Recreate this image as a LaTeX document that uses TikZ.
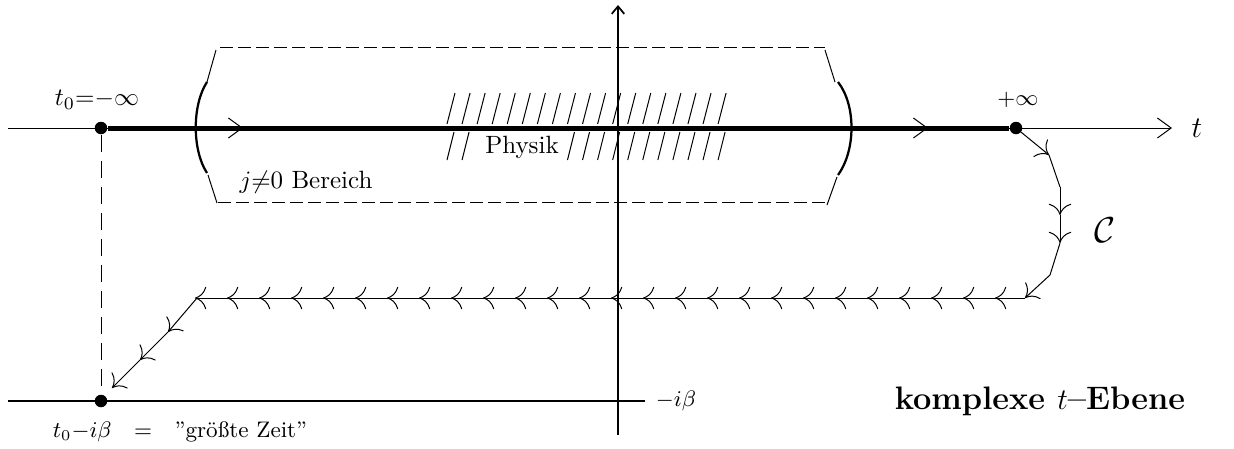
\documentclass[tikz,border=0pt]{standalone}
\usepackage{amsmath,amssymb}
\usetikzlibrary{positioning,arrows.meta}

\begin{document}
\begin{tikzpicture}[x=0.4pt, y=-0.4pt,
  dot/.style={circle, fill, inner sep=0pt, minimum size=5pt},
  barb/.style={-{To[length=4.5pt,width=9pt]}},
  bigbarb/.style={-{Straight Barb[length=5.5pt,width=8pt]}},
  dashbox/.style={dash pattern=on 5pt off 2.2pt},
  bracket/.style={line width=0.9pt}]
\useasboundingbox (0,0) rectangle (1234,448);

\node[dot] (t0) at (101,128) {};
\node[dot] (inf) at (1016,128) {};
\node[dot] (tb) at (101,401) {};

\node (t0lab) at (97,100) {$t_0{=}{-}\infty$};
\node (inflab) at (1018,100) {\small ${+}\infty$};
\node (tlab) at (1197,128) {\large $t$};
\node (phys) at (522,147) {Physik};
\node (bereich) at (306,182) {$j{\neq}0$ Bereich};
\node (cal) at (1105,230) {\Large $\mathcal{C}$};
\node (mib) at (676,401) {\small $-i\beta$};
\node (zeit) at (180,432) {\small $t_0{-}i\beta$\quad$=$\quad''gr\"o\ss te Zeit''};
\node (ebene) at (1040,401) {\fontsize{13}{15}\selectfont\bfseries komplexe $t$--Ebene};

% axes
\coordinate (xl) at (8,128);
\coordinate (xr) at (1172,128);
\draw[bigbarb] (xl) -- (xr);
\draw[line width=0.7pt, -{Straight Barb[length=3pt,width=5pt]}] (618,435) -- (618,5);
\draw[line width=0.8pt] (8,401) -- (645,401);
\draw[dash pattern=on 6.8pt off 3.6pt] (t0) -- (tb);

% real time branch
\draw[line width=2pt] (t0) -- (inf);
\draw[bigbarb] (225,128) -- (243,128);
\draw[bigbarb] (910,128) -- (928,128);

% j != 0 region
\draw[dashbox] (220,47) -- (825,47);
\draw[dashbox] (218,202) -- (828,202);
\draw (216,50) -- (207,82);
\draw[bracket] (207,82) .. controls (192,105) and (192,150) .. (207,173);
\draw (208,175) -- (217,203);
\draw (825,50) -- (835,82);
\draw[bracket] (838,82) .. controls (856,105) and (856,150) .. (838,175);
\draw (837,177) -- (827,205);

% hatching
\foreach \k in {0,...,18}
  \draw ({447+15.06*\k},124) -- ++(8,-31);
\foreach \k in {0,1,8,9,...,18}
  \draw ({447+15.06*\k},160) -- ++(7,-28);

% contour C
\coordinate (c1) at (1049,155);
\coordinate (c2) at (1060,187);
\coordinate (c3) at (1060,215);
\coordinate (c4) at (1060,243);
\coordinate (c5) at (1050,275);
\coordinate (c6) at (1025,298);
\coordinate (c7) at (197,298);
\coordinate (d1) at (168,332);
\coordinate (d2) at (140,360);
\coordinate (d3) at (112,388);
\draw[barb] (inf.center) -- (c1);
\draw (c1) -- (c2);
\draw[barb] (c2) -- (c3);
\draw[barb] (c3) -- (c4);
\draw (c4) -- (c5);
\draw[barb] (c5) -- (c6);
\draw (c6) -- (c7);
\foreach \k in {0,...,25}
  \draw[barb] ({1010-32*\k},298) -- ({995-32*\k},298);
\draw[barb] (c7) -- (d1);
\draw[barb] (d1) -- (d2);
\draw[barb] (d2) -- (d3);
\end{tikzpicture}
\end{document}
